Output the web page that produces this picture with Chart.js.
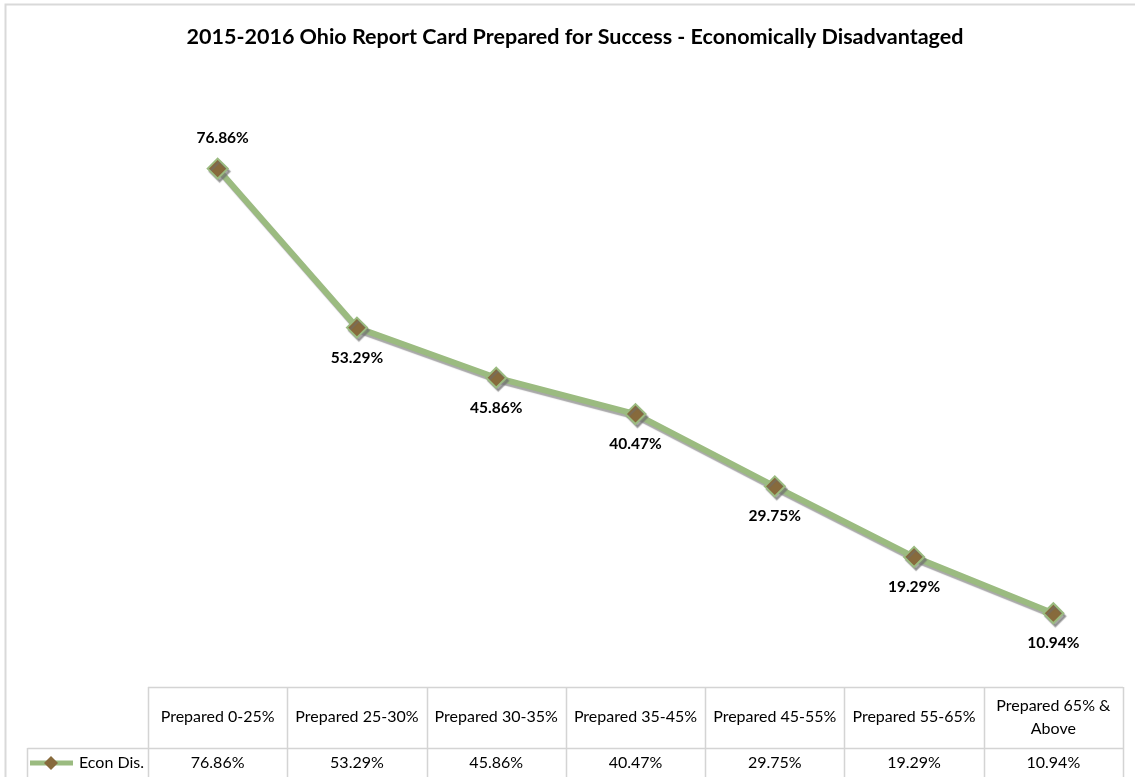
<!DOCTYPE html>
<html>
<head>
<meta charset="utf-8">
<script src="https://cdn.jsdelivr.net/npm/chart.js@4"></script>
<style>
  html, body { margin: 0; padding: 0; background: #fff; }
  #wrap { width: 1135px; height: 777px; position: relative; }
</style>
</head>
<body>
<div id="wrap"><canvas id="prepChart" width="1135" height="777"></canvas></div>
<script>
const chartTitle = "2015-2016 Ohio Report Card Prepared for Success - Economically Disadvantaged";
const categories = [
  ["Prepared 0-25%"],
  ["Prepared 25-30%"],
  ["Prepared 30-35%"],
  ["Prepared 35-45%"],
  ["Prepared 45-55%"],
  ["Prepared 55-65%"],
  ["Prepared 65% &", "Above"]
];
const seriesName = "Econ Dis.";
const econDis = [76.86, 53.29, 45.86, 40.47, 29.75, 19.29, 10.94];

const lineGreen = "#9bbb80";
const markerBrown = "#876a3c";
const gridGray = "#d4d4d4";
const fontFam = "Lato, 'Liberation Sans', sans-serif";

function fmt(v) { return v.toFixed(2) + "%"; }

// shadow under the line and markers
const shadowPlugin = {
  id: "shadow",
  beforeDatasetDraw(chart) {
    const ctx = chart.ctx;
    ctx.save();
    ctx.shadowColor = "rgba(110,110,110,0.6)";
    ctx.shadowOffsetX = 2;
    ctx.shadowOffsetY = 3;
    ctx.shadowBlur = 1;
  },
  afterDatasetDraw(chart) {
    chart.ctx.restore();
  }
};

// title, point labels + data table underneath the plot
const tablePlugin = {
  id: "dataTable",
  afterDraw(chart) {
    const ctx = chart.ctx;
    const x = chart.scales.x;
    const area = chart.chartArea;
    const meta = chart.getDatasetMeta(0);
    const colW = x.width / categories.length;

    ctx.save();
    // chart frame
    ctx.strokeStyle = "#d9d9d9";
    ctx.lineWidth = 2;
    ctx.beginPath();
    ctx.moveTo(5.5, 777);
    ctx.lineTo(5.5, 4.5);
    ctx.lineTo(1135, 4.5);
    ctx.stroke();

    // title
    ctx.fillStyle = "#000";
    ctx.textAlign = "center";
    ctx.textBaseline = "middle";
    ctx.font = "bold 21.5px " + fontFam;
    ctx.fillText(chartTitle, 575, 37);

    // value labels
    ctx.font = "bold 15.5px " + fontFam;
    meta.data.forEach((pt, i) => {
      const dy = i === 0 ? -31 : 30;
      ctx.fillText(fmt(econDis[i]), pt.x + (i === 0 ? 5 : 0), pt.y + dy);
    });

    // table grid
    const top = area.bottom;
    const rowTop = top + 61;
    const bottom = 777;
    const labelLeft = 27.5;
    ctx.strokeStyle = gridGray;
    ctx.lineWidth = 1.5;
    ctx.beginPath();
    ctx.moveTo(area.left, top + 0.5);
    ctx.lineTo(area.right, top + 0.5);
    ctx.moveTo(labelLeft, rowTop + 0.5);
    ctx.lineTo(area.right, rowTop + 0.5);
    ctx.moveTo(labelLeft, rowTop);
    ctx.lineTo(labelLeft, bottom);
    for (let i = 0; i <= categories.length; i++) {
      const cx = Math.round(x.left + i * colW) + 0.5;
      ctx.moveTo(cx, top);
      ctx.lineTo(cx, bottom);
    }
    ctx.stroke();

    // header and value cells
    ctx.font = "16px " + fontFam;
    categories.forEach((lines, i) => {
      const cx = x.getPixelForValue(i);
      const cy = top + 30;
      lines.forEach((ln, j) => {
        ctx.fillText(ln, cx, cy + (j - (lines.length - 1) / 2) * 23);
      });
      ctx.fillText(fmt(econDis[i]), cx, rowTop + 15);
    });

    // legend key
    const ky = rowTop + 15;
    ctx.strokeStyle = lineGreen;
    ctx.lineWidth = 5;
    ctx.beginPath();
    ctx.moveTo(30, ky);
    ctx.lineTo(73, ky);
    ctx.stroke();
    ctx.fillStyle = markerBrown;
    ctx.beginPath();
    ctx.moveTo(51, ky - 7);
    ctx.lineTo(58, ky);
    ctx.lineTo(51, ky + 7);
    ctx.lineTo(44, ky);
    ctx.closePath();
    ctx.fill();
    ctx.fillStyle = "#000";
    ctx.textAlign = "left";
    ctx.fillText(seriesName, 79, ky);
    ctx.restore();
  }
};

new Chart(document.getElementById("prepChart").getContext("2d"), {
  type: "line",
  data: {
    labels: categories,
    datasets: [
      {
        label: seriesName,
        data: econDis,
        borderColor: lineGreen,
        borderWidth: 6,
        pointStyle: "rectRot",
        pointRadius: 10,
        pointHoverRadius: 10,
        pointBackgroundColor: markerBrown,
        pointBorderColor: lineGreen,
        pointBorderWidth: 2,
        tension: 0,
        fill: false
      }
    ]
  },
  options: {
    responsive: false,
    animation: false,
    layout: { padding: { top: 80, left: 148, right: 7, bottom: 90 } },
    plugins: {
      legend: { display: false },
      tooltip: { enabled: false },
      title: { display: false }
    },
    scales: {
      x: { display: false, offset: true },
      y: { display: false, min: 0, max: 90 }
    }
  },
  plugins: [shadowPlugin, tablePlugin]
});
</script>
</body>
</html>
